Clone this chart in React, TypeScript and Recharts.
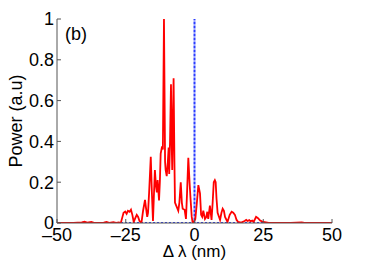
import React from 'react';
import { LineChart, Line, XAxis, YAxis } from 'recharts';

const wavelength = [
  -50, -44, -41, -40, -39, -37.5, -36.5, -33, -32, -31, -29.5, -28.5, -27.5, -26.8,
  -26.2, -25.8, -25.2, -24.7, -24.2, -23.6, -23.1, -22.6, -22.1, -21.5, -21.0, -20.5, -20.0,
  -19.3, -18.7, -18.0, -17.6, -17.2, -16.9, -16.5, -15.9, -15.5, -15.1, -14.8, -14.4, -14.0,
  -13.7, -13.4, -12.9, -12.6, -12.3, -11.8, -11.5, -11.1, -10.7, -10.5, -10.1, -9.7, -9.4,
  -9.2, -8.9, -8.55, -8.3, -8.1, -7.9, -7.6, -7.3, -7.1, -6.5, -5.9, -5.5, -5.0, -4.6, -4.3,
  -3.6, -3.1, -2.7, -2.25, -1.8, -1.4, -1.0, -0.65, -0.2, 0.3, 0.8, 1.4, 2.0, 2.4, 2.8, 3.2,
  3.8, 4.3, 4.65, 5.0, 5.6, 6.2, 6.6, 7.0, 7.4, 7.7, 8.0, 8.4, 9.3, 9.8, 10.25, 10.7, 11.1,
  12.0, 12.8, 13.5, 14.1, 14.7, 15.3, 15.9, 17.0, 18.2, 18.8, 19.3, 19.9, 20.4, 21.0, 21.5,
  22.4, 23.0, 23.9, 24.5, 25.1, 26.0, 27, 30, 35, 39, 40, 44, 50,
];

const power = [
  0, 0, 0.003, 0.006, 0.002, 0.005, 0.001, 0.002, 0.005, 0.001, 0.004, 0.001, 0.003, 0,
  0.03, 0.05, 0.056, 0.045, 0.06, 0.055, 0.065, 0.04, 0.005, 0.025, 0.04, 0.03, 0.01,
  0, 0.06, 0.113, 0.07, 0.03, 0.05, 0.15, 0.325, 0.15, 0.01, 0.12, 0.26, 0.18,
  0.15, 0.21, 0.11, 0.2, 0.34, 0.375, 0.36, 1.0, 0.3, 0.26, 0.23, 0.3, 0.37,
  0.24, 0.4, 0.68, 0.4, 0.26, 0.45, 0.71, 0.3, 0.1, 0.08, 0.06, 0.1, 0.2, 0.1, 0.07,
  0.065, 0.02, 0.15, 0.32, 0.2, 0.11, 0.03, 0, 0.005, 0.02, 0.09, 0.186, 0.145, 0.04, 0.03, 0.06,
  0.02, 0.03, 0.055, 0.02, 0.085, 0.015, 0.1, 0.2, 0.21, 0.2, 0.12, 0.05, 0.015, 0.05, 0.07, 0.06, 0.03,
  0.005, 0.04, 0.055, 0.05, 0.04, 0.015, 0.005, 0.002, 0.01, 0.015, 0.01, 0.014, 0.008, 0.012, 0.005,
  0.03, 0.025, 0.012, 0.008, 0.005, 0.003, 0, 0, 0.001, 0.003, 0.001, 0, 0,
];

const refWavelength = [-50, 0, 0, 0, 50];
const refPower = [0, 0, 1, 0, 0];

const xTicks = [-50, -25, 0, 25, 50];
const yTicks = [0, 0.2, 0.4, 0.6, 0.8, 1];

const redData = wavelength.map((x, i) => ({ x, y: power[i] }));
const blueData = refWavelength.map((x, i) => ({ x, y: refPower[i] }));

const FONT = '"Liberation Sans", Arial, Helvetica, sans-serif';
const fmt = (v: number) => String(v).replace('-', '\u2013');

export default function App() {
  return (
    <div style={{ position: 'absolute', left: 0, top: 0, width: 374, height: 263, background: '#fff' }}>
      <LineChart
        width={374}
        height={263}
        margin={{ top: 19, right: 42, bottom: 0, left: 7 }}
      >
        <XAxis
          xAxisId="bottom"
          dataKey="x"
          type="number"
          domain={[-50, 50]}
          ticks={xTicks}
          tickFormatter={fmt}
          allowDataOverflow
          height={40}
          tickSize={-4}
          tickMargin={9}
          stroke="#555"
          tick={{ fill: '#000', fontSize: 18, fontFamily: FONT }}
          label={{ value: 'Δ λ (nm)', position: 'insideBottom', offset: 6, fill: '#000', fontSize: 17, fontFamily: FONT }}
        />
        <XAxis
          xAxisId="top"
          dataKey="x"
          type="number"
          orientation="top"
          domain={[-50, 50]}
          ticks={xTicks}
          allowDataOverflow
          height={0}
          tickSize={-4}
          tick={false}
          stroke="#555"
        />
        <YAxis
          yAxisId="left"
          type="number"
          domain={[0, 1]}
          ticks={yTicks}
          allowDataOverflow
          width={50}
          tickSize={-4}
          tickMargin={7}
          stroke="#555"
          tick={{ fill: '#000', fontSize: 18, fontFamily: FONT }}
          label={{
            content: () => (
              <text
                x={0}
                y={0}
                transform="translate(22,121) rotate(-90)"
                textAnchor="middle"
                fill="#000"
                fontSize={18}
                fontFamily={FONT}
              >
                Power (a.u)
              </text>
            ),
          }}
        />
        <YAxis
          yAxisId="right"
          orientation="right"
          type="number"
          domain={[0, 1]}
          ticks={yTicks}
          allowDataOverflow
          width={0}
          tickSize={-4}
          tick={false}
          stroke="#555"
        />
        <Line
          xAxisId="bottom"
          yAxisId="left"
          data={blueData}
          dataKey="y"
          type="linear"
          stroke="#2a3cff"
          strokeWidth={2}
          strokeDasharray="2 2"
          dot={false}
          isAnimationActive={false}
        />
        <Line
          xAxisId="bottom"
          yAxisId="left"
          data={redData}
          dataKey="y"
          type="linear"
          stroke="#ff0000"
          strokeWidth={1.8}
          dot={false}
          isAnimationActive={false}
        />
      </LineChart>
      <div
        style={{
          position: 'absolute',
          left: 65,
          top: 25,
          fontSize: 18,
          fontFamily: FONT,
          color: '#000',
          lineHeight: '18px',
        }}
      >
        (b)
      </div>
    </div>
  );
}
